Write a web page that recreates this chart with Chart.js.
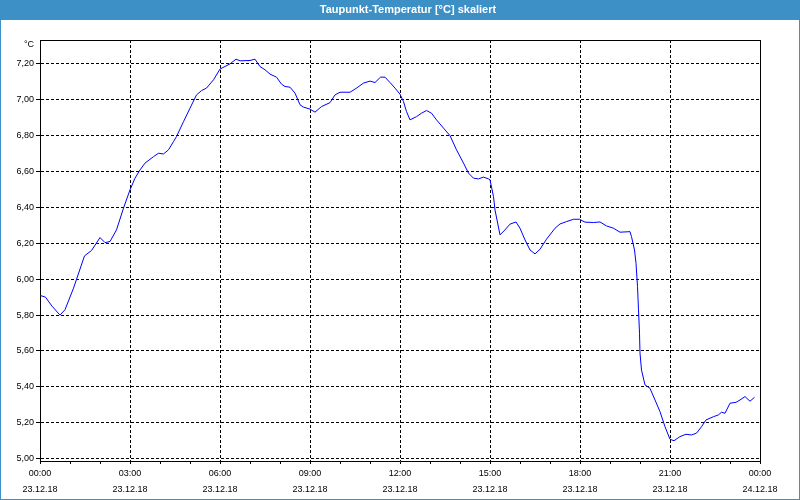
<!DOCTYPE html>
<html>
<head>
<meta charset="utf-8">
<script src="https://cdn.jsdelivr.net/npm/chart.js@4"></script>
<style>
    body { margin: 0; background: #fff; }
    #wrap { width: 800px; height: 500px; }
</style>
</head>
<body>
<div id="wrap"><canvas id="tauChart" width="800" height="500"></canvas></div>
<script>
const chartTitle = 'Taupunkt-Temperatur [°C] skaliert';
const unitLabel = '°C';

// minutes since 23.12.18 00:00
const minutes = [0, 11, 24, 40, 50, 67, 89, 103, 120, 130, 140, 153, 167, 180, 190, 200, 210, 227, 237, 247,
    257, 267, 273, 287, 300, 313, 323, 333, 347, 360, 380, 392, 400, 420, 430, 440, 450, 460, 473, 483,
    490, 500, 510, 520, 527, 540, 550, 563, 580, 590, 600, 620, 633, 647, 660, 670, 681, 690, 700, 710,
    720, 727, 733, 740, 753, 763, 773, 783, 793, 807, 820, 833, 847, 857, 867, 877, 887, 897, 900, 907,
    910, 920, 930, 940, 952, 960, 970, 980, 990, 1000, 1013, 1030, 1040, 1053, 1067, 1079, 1090, 1107, 1120, 1133,
    1147, 1160, 1180, 1183, 1189, 1192, 1195, 1197, 1199, 1200, 1203, 1210, 1220, 1230, 1240, 1250, 1260, 1268, 1280, 1292,
    1303, 1313, 1323, 1332, 1347, 1357, 1363, 1370, 1380, 1392, 1400, 1410, 1420, 1429];

const dewPoint = [5.91, 5.90, 5.85, 5.80, 5.83, 5.95, 6.13, 6.16, 6.232, 6.204, 6.21, 6.275, 6.396, 6.498, 6.563, 6.609, 6.647, 6.683, 6.702, 6.698,
    6.721, 6.767, 6.795, 6.878, 6.953, 7.027, 7.051, 7.065, 7.111, 7.171, 7.20, 7.226, 7.217, 7.219, 7.226, 7.185, 7.167, 7.143, 7.126, 7.087,
    7.074, 7.070, 7.037, 6.972, 6.959, 6.948, 6.931, 6.962, 6.984, 7.027, 7.042, 7.042, 7.065, 7.093, 7.104, 7.096, 7.126, 7.126, 7.096, 7.065,
    7.031, 6.990, 6.934, 6.888, 6.906, 6.925, 6.940, 6.925, 6.888, 6.842, 6.800, 6.721, 6.647, 6.591, 6.563, 6.559, 6.569, 6.559, 6.554, 6.460,
    6.386, 6.247, 6.275, 6.307, 6.319, 6.284, 6.219, 6.163, 6.141, 6.167, 6.223, 6.284, 6.308, 6.321, 6.334, 6.334, 6.318, 6.316, 6.319, 6.297,
    6.284, 6.262, 6.265, 6.237, 6.163, 6.089, 5.959, 5.829, 5.699, 5.588, 5.494, 5.411, 5.392, 5.327, 5.262, 5.178, 5.108, 5.100, 5.123, 5.136,
    5.132, 5.142, 5.178, 5.216, 5.234, 5.244, 5.259, 5.253, 5.309, 5.314, 5.327, 5.346, 5.320, 5.342];

const yTicks = [5.0, 5.2, 5.4, 5.6, 5.8, 6.0, 6.2, 6.4, 6.6, 6.8, 7.0, 7.2];
const xHours = [0, 1, 2, 3, 4, 5, 6, 7, 8, 9, 10, 11, 12, 13, 14, 15, 16, 17, 18, 19, 20, 21, 22, 23, 24];
const xTimeLabels = ['00:00', '03:00', '06:00', '09:00', '12:00', '15:00', '18:00', '21:00', '00:00'];
const xDateLabels = ['23.12.18', '23.12.18', '23.12.18', '23.12.18', '23.12.18', '23.12.18', '23.12.18', '23.12.18', '24.12.18'];

const barBlue = '#3d90c6';
const tickFont = { family: 'Liberation Sans', size: 9, lineHeight: '16px' };

const points = minutes.map((m, i) => ({ x: m / 60, y: dewPoint[i] }));

// title bar, page frame, plot frame and unit label
const framePlugin = {
    id: 'frame',
    beforeDraw(chart) {
        const c = chart.ctx;
        c.save();
        c.fillStyle = '#fff';
        c.fillRect(0, 0, chart.width, chart.height);
        c.fillStyle = barBlue;
        c.fillRect(0, 0, chart.width, 20);
        c.fillStyle = '#fff';
        c.font = 'bold 11px "Liberation Sans"';
        c.textAlign = 'center';
        c.textBaseline = 'middle';
        c.fillText(chartTitle, 408, 10);
        c.restore();
    },
    afterDraw(chart) {
        const c = chart.ctx;
        const a = chart.chartArea;
        c.save();
        c.strokeStyle = '#000';
        c.lineWidth = 1;
        c.beginPath();
        c.moveTo(a.left, a.top + 0.5);
        c.lineTo(a.right + 0.5, a.top + 0.5);
        c.lineTo(a.right + 0.5, a.bottom);
        c.stroke();
        c.strokeStyle = barBlue;
        c.strokeRect(0.5, 0.5, chart.width - 1, chart.height - 1);
        c.fillStyle = '#000';
        c.font = '9px "Liberation Sans"';
        c.textAlign = 'right';
        c.textBaseline = 'middle';
        c.fillText(unitLabel, 34, 45);
        c.restore();
    }
};

const ctx = document.getElementById('tauChart').getContext('2d');

const tauChart = new Chart(ctx, {
    type: 'line',
    data: {
        datasets: [{
            data: points,
            borderColor: '#0000ff',
            borderWidth: 1,
            pointRadius: 0,
            tension: 0,
            fill: false
        }]
    },
    options: {
        responsive: false,
        animation: false,
        devicePixelRatio: 1,
        layout: { padding: { left: 0, top: 40, right: 40, bottom: 0 } },
        plugins: {
            legend: { display: false },
            title: { display: false },
            tooltip: { enabled: false }
        },
        scales: {
            x: {
                type: 'linear',
                min: 0,
                max: 24,
                afterBuildTicks: scale => { scale.ticks = xHours.map(v => ({ value: v })); },
                afterFit: scale => { scale.height = 39; },
                border: { display: true, color: '#000', width: 1, dash: [3, 2] },
                grid: {
                    color: c => (c.tick && c.tick.value % 3 === 0) ? '#000' : 'rgba(0,0,0,0)',
                    tickColor: '#000',
                    tickLength: 3,
                    tickBorderDash: []
                },
                ticks: {
                    autoSkip: false,
                    maxRotation: 0,
                    padding: 2,
                    color: '#000',
                    font: tickFont,
                    callback: v => v % 3 === 0 ? [xTimeLabels[v / 3], xDateLabels[v / 3]] : ''
                }
            },
            y: {
                min: 4.987,
                max: 7.333,
                afterBuildTicks: scale => { scale.ticks = yTicks.map(v => ({ value: v })); },
                afterFit: scale => { scale.width = 40; },
                border: { display: true, color: '#000', width: 1, dash: [3, 2] },
                grid: {
                    color: '#000',
                    tickColor: '#000',
                    tickLength: 4,
                    tickBorderDash: []
                },
                ticks: {
                    padding: 2,
                    color: '#000',
                    font: tickFont,
                    callback: v => v.toFixed(2).replace('.', ',')
                }
            }
        }
    },
    plugins: [framePlugin]
});
</script>
</body>
</html>
